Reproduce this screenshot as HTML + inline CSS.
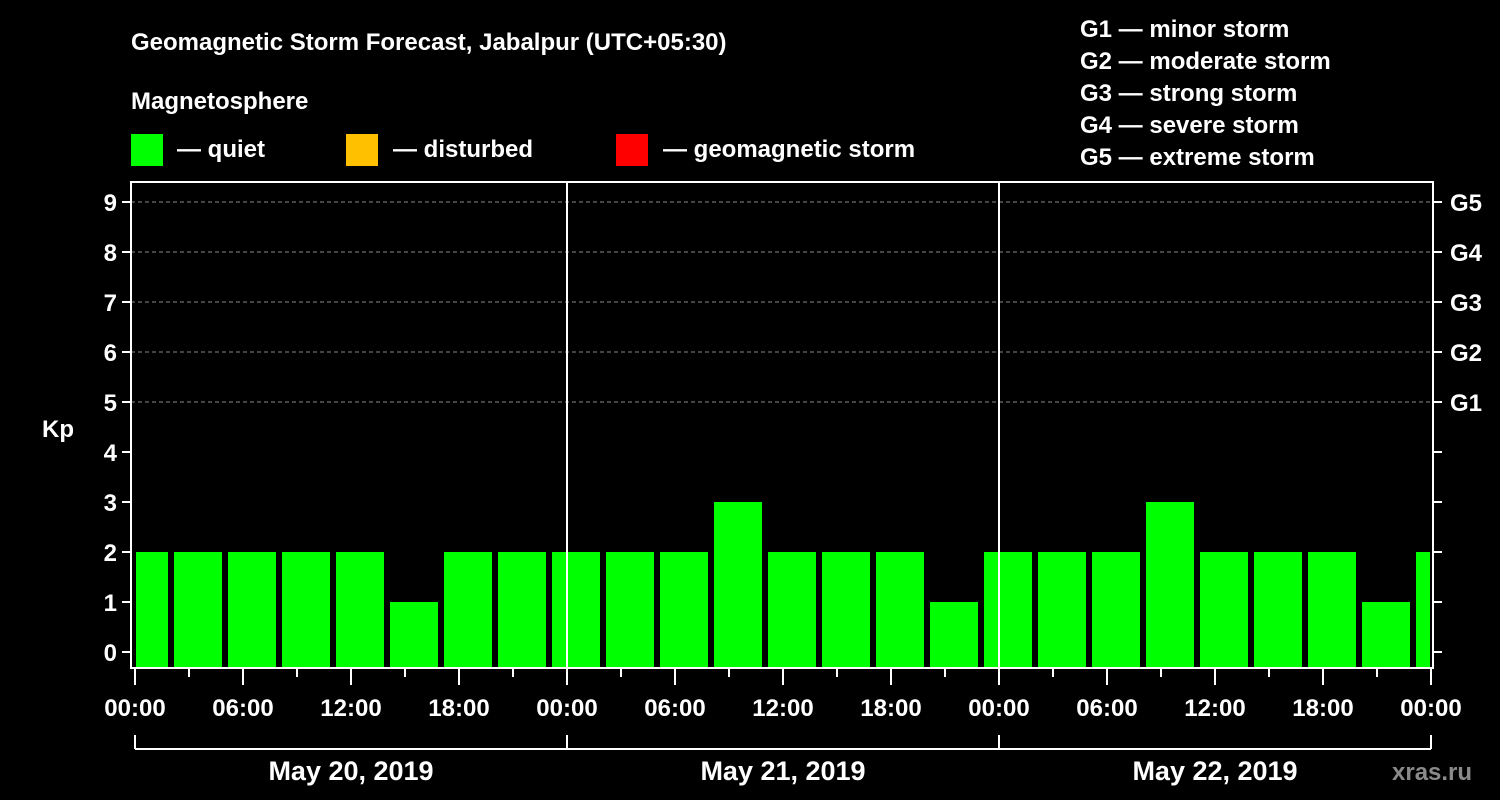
<!DOCTYPE html>
<html><head><meta charset="utf-8"><style>
html,body{margin:0;padding:0;background:#000;width:1500px;height:800px;overflow:hidden}
svg text{font-family:"Liberation Sans",sans-serif;font-weight:bold;fill:#fff}
</style></head><body>
<svg id="chart" width="1500" height="800" xmlns="http://www.w3.org/2000/svg">
<text x="131" y="50" font-size="24">Geomagnetic Storm Forecast, Jabalpur (UTC+05:30)</text>
<text x="131" y="109" font-size="24">Magnetosphere</text>
<g>
<rect x="131" y="134" width="32" height="32" fill="#00ff00"/>
<text x="177" y="157" font-size="24">— quiet</text>
<rect x="346" y="134" width="32" height="32" fill="#ffc000"/>
<text x="393" y="157" font-size="24">— disturbed</text>
<rect x="616" y="134" width="32" height="32" fill="#ff0000"/>
<text x="663" y="157" font-size="24">— geomagnetic storm</text>
</g>
<g font-size="24">
<text x="1080" y="37">G1 — minor storm</text>
<text x="1080" y="69">G2 — moderate storm</text>
<text x="1080" y="101">G3 — strong storm</text>
<text x="1080" y="133">G4 — severe storm</text>
<text x="1080" y="165">G5 — extreme storm</text>
</g>
<text x="42" y="437" font-size="24">Kp</text>
<text x="1392" y="780" font-size="24" fill="#888" style="fill:#8a8a8a">xras.ru</text>
<g id="plot"></g>
</svg>
<script>
const kpValues = [2,2,2,2,2,1,2,2, 2,2,2,3,2,2,2,1, 2,2,2,3,2,2,2,1, 2];
const binStartHours = [-1,2,5,8,11,14,17,20, 23,26,29,32,35,38,41,44, 47,50,53,56,59,62,65,68, 71];
const yTicks = [0,1,2,3,4,5,6,7,8,9];
const gLabels = ["G1","G2","G3","G4","G5"];
const gLevels = [5,6,7,8,9];
const xTickLabels = ["00:00","06:00","12:00","18:00","00:00","06:00","12:00","18:00","00:00","06:00","12:00","18:00","00:00"];
const dayLabels = ["May 20, 2019","May 21, 2019","May 22, 2019"];

const L=131,R=1433,T=182,B=668;
const xs=h=>135+h*18;
const ys=v=>652-v*50;
const NS="http://www.w3.org/2000/svg";
const g=document.getElementById('plot');
function mk(tag,attrs){const e=document.createElementNS(NS,tag);for(const k in attrs)e.setAttribute(k,attrs[k]);g.appendChild(e);return e;}

yTicks.forEach(v=>{
  if(v>=5){const l=mk('line',{x1:L,x2:R,y1:ys(v),y2:ys(v),stroke:'#888','stroke-dasharray':'4,3','stroke-width':1});
  
  }
});
// bars
kpValues.forEach((v,i)=>{
  let x0=xs(binStartHours[i])+3, x1=xs(binStartHours[i]+3)-3;
  x0=Math.max(x0,L+5); x1=Math.min(x1,R-3);
  const r=mk('rect',{x:x0,y:ys(v),width:x1-x0,height:B-ys(v),fill:v>=5?'#ff0000':(v>=4?'#ffc000':'#00ff00')});
  
  
});
// day separators
[1,2].forEach(d=>{const l=mk('line',{x1:xs(d*24),x2:xs(d*24),y1:T,y2:B,stroke:'#fff','stroke-width':2});

});
// frame
const f=mk('rect',{x:L,y:T,width:R-L,height:B-T,fill:'none',stroke:'#fff','stroke-width':2});


// y ticks + labels
yTicks.forEach(v=>{
  mk('line',{x1:L-9,x2:L,y1:ys(v),y2:ys(v),stroke:'#fff','stroke-width':2});
  mk('line',{x1:R,x2:R+9,y1:ys(v),y2:ys(v),stroke:'#fff','stroke-width':2});
  const t=mk('text',{x:L-14,y:ys(v)+9,'font-size':24,'text-anchor':'end'});t.textContent=v;
  
  
});
gLabels.forEach((s,i)=>{const t=mk('text',{x:1450,y:ys(gLevels[i])+9,'font-size':24});t.textContent=s;
  
  });
// x ticks
for(let h=0;h<=72;h+=3){const major=h%6===0;
  mk('line',{x1:xs(h),x2:xs(h),y1:B,y2:B+(major?17:9),stroke:'#fff','stroke-width':2});}
xTickLabels.forEach((s,i)=>{const t=mk('text',{x:xs(i*6),y:716,'font-size':24,'text-anchor':'middle'});t.textContent=s;
  
  });
// day brackets
mk('line',{x1:xs(0),x2:xs(72),y1:749,y2:749,stroke:'#fff','stroke-width':2});
[0,1,2,3].forEach(d=>mk('line',{x1:xs(d*24),x2:xs(d*24),y1:735,y2:749,stroke:'#fff','stroke-width':2}));
dayLabels.forEach((s,i)=>{const t=mk('text',{x:xs(i*24+12),y:780,'font-size':27,'text-anchor':'middle'});t.textContent=s;
  
  });
</script>
</body></html>
